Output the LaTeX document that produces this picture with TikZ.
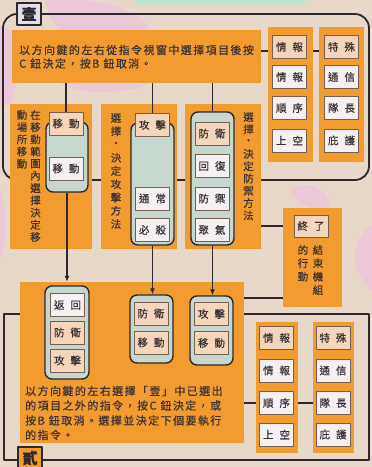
\documentclass[tikz,border=0pt]{standalone}
\usepackage{fontspec}
\setmainfont{Noto Sans CJK TC}[FakeBold=0.4]
\newfontfamily\bodyfont[LetterSpace=13,FakeBold=0.4]{Noto Sans CJK TC}
\usetikzlibrary{arrows.meta}
\definecolor{bg}{RGB}{232,216,202}
\definecolor{pinkbg}{RGB}{234,200,216}
\definecolor{mint}{RGB}{196,228,206}
\definecolor{orng}{RGB}{242,155,46}
\definecolor{peach}{RGB}{246,214,186}
\definecolor{wbox}{RGB}{244,240,243}
\definecolor{caps}{RGB}{198,216,206}
\definecolor{ink}{RGB}{45,40,45}
\definecolor{txt}{RGB}{60,50,50}
\definecolor{bdr}{RGB}{120,95,80}
\definecolor{lav}{RGB}{226,222,234}
\newcommand\gp{\hspace{6pt}}
\newcommand\lbl[2]{#1\gp{}#2}
\newcommand\vcol[5]{\foreach \c [count=\i] in {#5}{\node[vt] (#1\i) at (#2,{#3+#4*(\i-1)}) {\c};}}
\begin{document}
\begin{tikzpicture}[x=1pt,y=-1pt,line join=round,
  panel/.style={fill=orng,draw=none,inner sep=0pt},
  sbox/.style={draw=bdr,line width=0.8pt,minimum width=34pt,minimum height=23pt,inner sep=0pt,font=\fontsize{10.5}{12}\selectfont,text=txt},
  pk/.style={sbox,fill=peach},
  wt/.style={sbox,fill=wbox},
  capsule/.style={draw=ink,line width=1.4pt,fill=caps,rounded corners=7pt,inner sep=0pt},
  conn/.style={draw=ink,line width=1.8pt},
  arr/.style={conn,-{Latex[length=6pt,width=5pt]}},
  vt/.style={font=\fontsize{10.5}{12}\selectfont,text=txt,inner sep=0pt},
  body/.style={font=\bodyfont\fontsize{11}{13}\selectfont,text=txt,inner sep=0pt,anchor=west},
  tag/.style={draw=ink,line width=1.2pt,minimum width=24pt,minimum height=22pt,inner sep=0pt,font=\fontsize{15}{15}\selectfont\bfseries,text=ink}]
\fill[bg] (0,0) rectangle (372,467);
\useasboundingbox (0,0) rectangle (372,467);
% background decoration
\fill[mint] (135,0) rectangle (305,6);
\fill[pinkbg] (45,0) .. controls (80,-5) and (140,5) .. (150,30) -- (60,30) .. controls (50,20) .. (45,0);
\fill[pinkbg] (0,25) .. controls (20,30) and (25,60) .. (12,100) -- (0,110) -- cycle;
\fill[pinkbg] (60,83) .. controls (75,95) and (130,95) .. (150,83) -- cycle;
\fill[pinkbg] (290,190) .. controls (305,180) and (325,185) .. (330,205) .. controls (320,212) and (300,210) .. (290,190);
\fill[pinkbg] (372,225) .. controls (350,240) and (348,270) .. (372,290) -- cycle;
\fill[pinkbg] (0,190) .. controls (8,210) and (8,240) .. (0,260) -- cycle;
% loops
\draw[conn,rounded corners=14pt] (3,14) rectangle (369,180);
\draw[conn] (4,314) rectangle (369,460);
% panels
\node[panel,minimum width=249pt,minimum height=53pt] (T) at (136.5,56.5) {};
\node[panel,minimum width=45pt,minimum height=135pt] (c1) at (290.5,94.5) {};
\node[panel,minimum width=45pt,minimum height=135pt] (c2) at (341.5,94.5) {};
\node[panel,minimum width=82pt,minimum height=145pt] (pA) at (51,176.5) {};
\node[panel,minimum width=76pt,minimum height=145pt] (pB) at (139,176.5) {};
\node[panel,minimum width=76pt,minimum height=145pt] (pC) at (223,176.5) {};
\node[panel,minimum width=59pt,minimum height=99pt] (pD) at (312.5,257.5) {};
\node[panel,minimum width=224pt,minimum height=161pt] (big) at (132,362.5) {};
\node[panel,minimum width=42pt,minimum height=131pt] (cH) at (277,387.5) {};
\node[panel,minimum width=41pt,minimum height=131pt] (cI) at (333.5,387.5) {};
% tags
\node[tag,fill=lav] (one) at (29,14) {壹};
\node[tag,fill=orng] (two) at (30,458) {貳};
% top text
\node[body] (t1) at (19,50) {以方向鍵的左右從指令視窗中選擇項目後按};
\node[body] (t2) at (19,63.5) {C 鈕決定，按B 鈕取消。};
% top right columns
\node[pk] (a1) at (289.5,47) {\lbl{情}{報}};
\node[wt] (a2) at (289.5,77) {\lbl{情}{報}};
\node[wt] (a3) at (289.5,108) {\lbl{順}{序}};
\node[wt] (a4) at (289.5,140.5) {\lbl{上}{空}};
\node[pk] (b1) at (341.5,47) {\lbl{特}{殊}};
\node[wt] (b2) at (341.5,77) {\lbl{通}{信}};
\node[wt] (b3) at (341.5,108) {\lbl{隊}{長}};
\node[wt] (b4) at (341.5,140.5) {\lbl{庇}{護}};
% capsules middle
\node[capsule,minimum width=42pt,minimum height=70pt] (capA) at (67,157) {};
\node[capsule,minimum width=43pt,minimum height=122pt] (capB) at (152.5,184) {};
\node[capsule,minimum width=43pt,minimum height=133pt] (capC) at (212.5,178.5) {};
\node[pk] (A1) at (66,123.5) {\lbl{移}{動}};
\node[wt] (A2) at (66,168.5) {\lbl{移}{動}};
\node[pk] (B1) at (152.5,125) {\lbl{攻}{擊}};
\node[wt] (B2) at (152.5,198.5) {\lbl{通}{常}};
\node[wt] (B3) at (152.5,230) {\lbl{必}{殺}};
\node[pk] (C1) at (212,133.5) {\lbl{防}{衛}};
\node[wt] (C2) at (212,166) {\lbl{回}{復}};
\node[wt] (C3) at (212,198.5) {\lbl{防}{禦}};
\node[wt] (C4) at (212,230) {\lbl{聚}{氣}};
\node[pk,minimum height=22pt] (D1) at (311,226) {\lbl{終}{了}};
% vertical texts
\vcol{pa}{35.5}{115}{12.2}{在,移,動,範,圍,內,選,擇,決,定,移}
\vcol{pb}{22}{115}{12.2}{動,場,所,移,動}
\vcol{pc}{116}{118}{13.25}{選,擇,・,決,定,攻,擊,方,法}
\vcol{pd}{248.5}{117}{12.3}{選,擇,・,決,定,防,禦,方,法}
\vcol{pe}{318}{250}{13.3}{結,束,機,組}
\vcol{pf}{303}{250}{13.3}{的,行,動}
% bottom capsules
\node[capsule,minimum width=44pt,minimum height=93pt] (capE) at (67,332.5) {};
\node[capsule,minimum width=43pt,minimum height=68pt] (capF) at (151.5,329) {};
\node[capsule,minimum width=43pt,minimum height=69pt] (capG) at (211.5,330.5) {};
\node[wt] (E1) at (67.5,305) {\lbl{返}{回}};
\node[pk] (E2) at (67.5,332.5) {\lbl{防}{衛}};
\node[pk] (E3) at (67.5,360.5) {\lbl{攻}{擊}};
\node[pk] (F1) at (151,313.5) {\lbl{防}{衛}};
\node[pk] (F2) at (151,342.5) {\lbl{移}{動}};
\node[pk] (G1) at (211.5,314) {\lbl{攻}{擊}};
\node[pk] (G2) at (211.5,343) {\lbl{移}{動}};
% bottom text
\node[body] (u1) at (25,391) {以方向鍵的左右選擇「壹」中已選出};
\node[body] (u2) at (25,405.5) {的項目之外的指令，按C 鈕決定，或};
\node[body] (u3) at (25,420.5) {按B 鈕取消。選擇並決定下個要執行};
\node[body] (u4) at (25,435) {的指令。};
% bottom right columns
\node[pk] (h1) at (276.5,338) {\lbl{情}{報}};
\node[wt] (h2) at (276.5,370.5) {\lbl{情}{報}};
\node[wt] (h3) at (276.5,403) {\lbl{順}{序}};
\node[wt] (h4) at (276.5,434.5) {\lbl{上}{空}};
\node[pk] (i1) at (333,338) {\lbl{特}{殊}};
\node[wt] (i2) at (333,370.5) {\lbl{通}{信}};
\node[wt] (i3) at (333,403) {\lbl{隊}{長}};
\node[wt] (i4) at (333,434.5) {\lbl{庇}{護}};
% connectors
\coordinate (r1) at (0,51);
\coordinate (r2) at (0,298);
\draw[conn] (T.east |- r1) -- (c1.west |- r1);
\draw[conn] (c1.east |- r1) -- (c2.west |- r1);
\draw[conn] (A1.north) -- (A1.north |- T.south);
\draw[conn] (B1.north) -- (B1.north |- T.south);
\draw[conn] (capC.north) -- (capC.north |- T.south);
\draw[conn] (pC.east |- D1) -- (pD.west |- D1);
\draw[arr] (capA.south) -- (capA.south |- big.north);
\draw[arr] (capB.south) -- (capB.south |- capF.north);
\draw[arr] (capC.south) -- (capC.south |- capG.north);
\draw[conn] (big.east |- r2) -- (pD.west |- r2);
\draw[conn] (big.east |- h3) -- (cH.west |- h3);
\draw[conn] (cH.east |- h3) -- (cI.west |- h3);
\end{tikzpicture}
\end{document}
